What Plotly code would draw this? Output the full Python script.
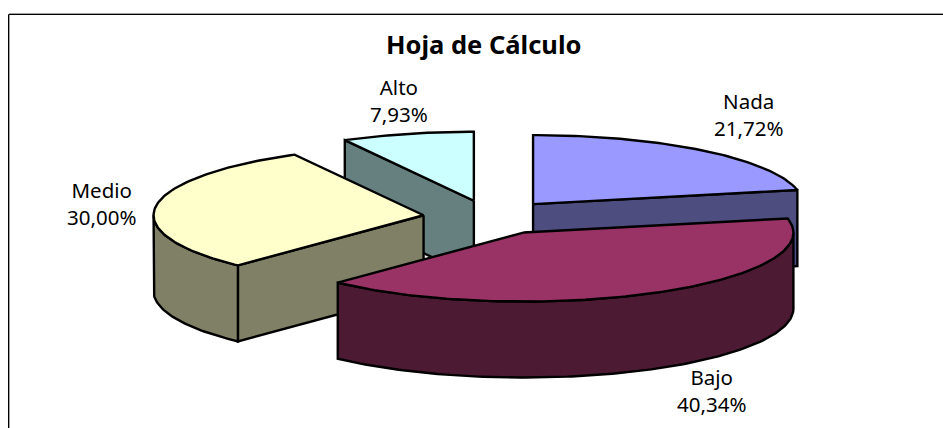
import numpy as np
import plotly.graph_objects as go

# --- data ---
categories = ["Nada", "Bajo", "Medio", "Alto"]
values = [21.72, 40.34, 30.00, 7.93]
top_colors = ["#9999FF", "#993366", "#FFFFCC", "#CCFFFF"]
side_colors = ["#4D4D80", "#4D1A33", "#808066", "#668080"]
draw_order = ["Alto", "Nada", "Medio", "Bajo"]
title_text = "Hoja de Cálculo"
label_centers = {"Nada": (748, 114), "Bajo": (711, 390.5), "Medio": (101, 203.5), "Alto": (399, 100)}

# --- 3D pie projection ---
CX, CY = 490.5, 217.5
RX, RY = 270.0, 69.0
DEPTH = 76.0
PULL = 0.25
LW = 2.4

shares = np.array(values) / sum(values)
ends = np.cumsum(shares) * 360.0
starts = ends - shares * 360.0


def rim(ax, ay, a0, a1, dz=0.0):
    n = max(2, int(abs(a1 - a0)) + 2)
    t = np.radians(np.linspace(a0, a1, n))
    return ax + RX * np.sin(t), ay - RY * np.cos(t) + dz


fig = go.Figure()


def face(xs, ys, color):
    xs, ys = np.asarray(xs), np.asarray(ys)
    fig.add_trace(go.Scatter(
        x=np.append(xs, xs[0]), y=np.append(ys, ys[0]), mode="lines", fill="toself",
        fillcolor=color, line=dict(color="black", width=LW), hoverinfo="skip", showlegend=False,
    ))


for name in draw_order:
    i = categories.index(name)
    a0, a1 = starts[i], ends[i]
    mid = np.radians((a0 + a1) / 2)
    ax = CX + PULL * RX * np.sin(mid)
    ay = CY - PULL * RY * np.cos(mid)
    # radial cut faces turned toward the viewer
    for ang, visible in ((a0, np.sin(np.radians(a0)) < -1e-6), (a1, np.sin(np.radians(a1)) > 1e-6)):
        if visible:
            ex, ey = rim(ax, ay, ang, ang)
            ex, ey = ex[0], ey[0]
            face([ax, ex, ex, ax], [ay, ey, ey + DEPTH, ay + DEPTH], side_colors[i])
    # outer wall on the front half
    w0, w1 = max(a0, 90.0), min(a1, 270.0)
    if w1 > w0:
        tx, ty = rim(ax, ay, w0, w1)
        bx, by = rim(ax, ay, w1, w0, DEPTH)
        face(np.r_[tx, bx], np.r_[ty, by], side_colors[i])
    # top surface
    tx, ty = rim(ax, ay, a0, a1)
    face(np.r_[ax, tx], np.r_[ay, ty], top_colors[i])

for name, val in zip(categories, values):
    x, y = label_centers[name]
    fig.add_annotation(x=x, y=y, xref="x", yref="y", showarrow=False, align="center",
                       text=f"{name}<br>{val:.2f}%".replace(".", ","),
                       font=dict(family="Noto Sans", size=20.5, color="black"))

fig.add_annotation(x=483, y=43.5, xref="x", yref="y", showarrow=False, text=f"<b>{title_text}</b>",
                   font=dict(family="Noto Sans", size=25.5, color="black"))

# chart frame: only its top and left edges fall inside the picture
fig.add_shape(type="rect", xref="x", yref="y", x0=9.5, y0=13.5, x1=960, y1=450,
              line=dict(color="#A0A0A0", width=1), fillcolor="rgba(0,0,0,0)", layer="above")
fig.add_shape(type="rect", xref="x", yref="y", x0=8.5, y0=14.5, x1=960, y1=450,
              line=dict(color="black", width=1), fillcolor="rgba(0,0,0,0)", layer="above")

fig.update_xaxes(range=[0, 943], visible=False, fixedrange=True)
fig.update_yaxes(range=[428, 0], visible=False, fixedrange=True)
fig.update_layout(width=943, height=428, autosize=False, margin=dict(l=0, r=0, t=0, b=0),
                  paper_bgcolor="white", plot_bgcolor="white")

fig.write_html("out.html", config={"displayModeBar": False, "responsive": False},
               post_script="document.body.style.margin='0';document.body.style.overflow='hidden';")
